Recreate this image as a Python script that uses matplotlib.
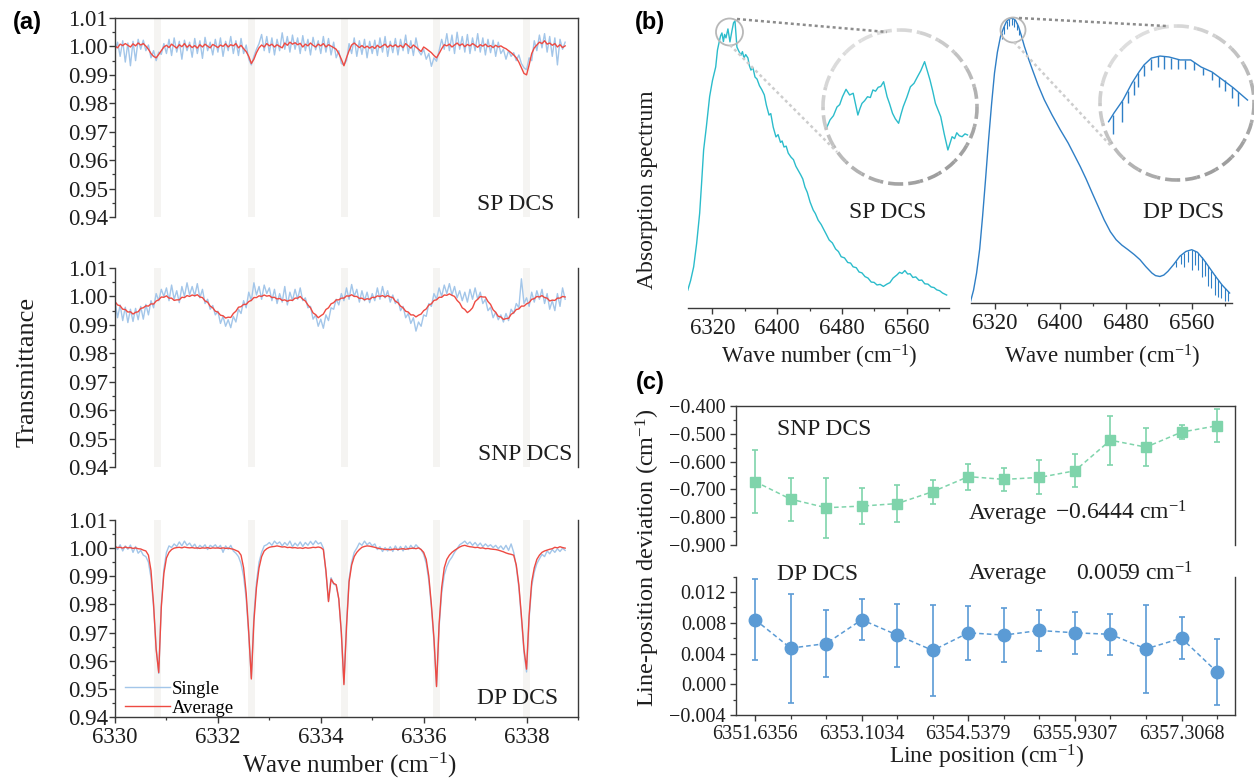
import matplotlib.pyplot as plt
import numpy as np
from matplotlib.patches import Arc, Circle
from matplotlib.ticker import FuncFormatter, MultipleLocator

W, H = 1254, 781

# (a) transmittance, one sample every 0.05 cm-1 starting at 6330.00
wn_start, wn_step = 6330.0, 0.05
line_centers = [6330.825, 6332.66, 6334.465, 6336.255, 6338.005]

sp_single = [
    0.9985, 1.0015, 0.9965, 1.0020, 0.9945, 1.0012, 0.9932, 1.0018, 0.9950, 1.0025,
    0.9990, 1.0022, 0.9985, 1.0005, 0.9960, 0.9985, 0.9950, 0.9980, 0.9972, 1.0010,
    0.9975, 1.0025, 0.9968, 1.0030, 0.9980, 1.0018, 0.9955, 1.0022, 0.9985, 1.0015,
    0.9962, 1.0028, 0.9975, 1.0020, 0.9958, 1.0032, 0.9985, 1.0015, 0.9970, 1.0025,
    0.9980, 1.0030, 0.9965, 1.0018, 0.9985, 1.0035, 0.9975, 1.0020, 0.9968, 1.0028,
    0.9975, 1.0005, 0.9955, 0.9935, 0.9965, 0.9990, 1.0010, 1.0042, 0.9985, 1.0035,
    0.9978, 1.0030, 0.9970, 1.0025, 0.9985, 1.0048, 0.9990, 1.0035, 0.9980, 1.0040,
    0.9990, 1.0030, 0.9975, 1.0038, 0.9985, 1.0025, 0.9970, 1.0032, 0.9988, 1.0020,
    0.9975, 1.0035, 0.9980, 1.0028, 0.9970, 1.0015, 0.9960, 0.9985, 0.9940, 0.9935,
    0.9950, 1.0010, 0.9975, 1.0030, 0.9965, 1.0020, 0.9972, 1.0025, 0.9960, 1.0018,
    0.9975, 1.0022, 0.9968, 1.0030, 0.9980, 1.0035, 0.9965, 1.0018, 0.9978, 1.0028,
    0.9970, 1.0025, 0.9985, 1.0040, 0.9975, 1.0020, 0.9968, 1.0030, 0.9985, 0.9970,
    0.9990, 0.9955, 0.9975, 0.9930, 0.9960, 0.9948, 0.9985, 1.0025, 0.9990, 1.0045,
    0.9985, 1.0040, 0.9975, 1.0050, 0.9990, 1.0035, 0.9980, 1.0042, 0.9975, 1.0030,
    0.9985, 1.0045, 0.9980, 1.0030, 0.9970, 1.0025, 0.9978, 1.0022, 0.9965, 1.0015,
    0.9975, 0.9990, 0.9955, 0.9985, 0.9965, 0.9978, 0.9950, 0.9970, 0.9940, 0.9925,
    0.9918, 0.9960, 0.9950, 1.0020, 0.9985, 1.0040, 0.9995, 1.0045, 0.9980, 1.0035,
    0.9965, 1.0030, 0.9935, 1.0025, 0.9990, 1.0015]
sp_avg = [
    1.0002, 0.9995, 1.0008, 1.0003, 1.0010, 1.0004, 0.9998, 1.0009, 1.0002, 1.0012,
    1.0005, 1.0010, 1.0001, 0.9990, 0.9975, 0.9965, 0.9960, 0.9972, 0.9985, 0.9998,
    1.0004, 0.9996, 1.0008, 1.0001, 0.9994, 1.0006, 0.9999, 1.0010, 0.9997, 1.0005,
    0.9996, 1.0003, 0.9994, 1.0006, 0.9998, 1.0008, 1.0001, 0.9995, 1.0007, 1.0002,
    0.9996, 1.0005, 1.0000, 1.0009, 0.9998, 1.0006, 1.0002, 1.0010, 0.9995, 1.0004,
    0.9992, 0.9982, 0.9965, 0.9940, 0.9955, 0.9978, 0.9995, 1.0005, 0.9998, 1.0010,
    1.0002, 1.0008, 0.9998, 1.0006, 1.0000, 0.9995, 1.0012, 1.0004, 1.0015, 1.0008,
    1.0013, 1.0006, 1.0011, 0.9998, 1.0008, 1.0002, 1.0012, 1.0004, 0.9998, 1.0008,
    1.0002, 1.0010, 0.9998, 1.0006, 1.0001, 0.9996, 0.9990, 0.9975, 0.9955, 0.9932,
    0.9960, 0.9985, 1.0005, 1.0012, 1.0004, 0.9996, 1.0003, 0.9995, 1.0001, 0.9994,
    1.0000, 0.9993, 1.0004, 0.9996, 1.0002, 1.0008, 0.9997, 1.0005, 0.9999, 1.0006,
    0.9998, 1.0004, 0.9996, 1.0010, 1.0002, 0.9994, 1.0005, 0.9998, 0.9990, 0.9982,
    0.9998, 0.9992, 0.9985, 0.9978, 0.9968, 0.9960, 0.9975, 0.9992, 1.0006, 1.0002,
    1.0008, 0.9998, 1.0005, 1.0012, 1.0003, 1.0009, 0.9999, 1.0007, 1.0002, 1.0010,
    1.0004, 0.9997, 1.0006, 1.0001, 1.0008, 0.9999, 1.0003, 0.9996, 1.0004, 0.9998,
    1.0002, 0.9996, 0.9992, 0.9985, 0.9978, 0.9970, 0.9960, 0.9945, 0.9925, 0.9905,
    0.9900, 0.9935, 0.9975, 0.9995, 1.0005, 1.0015, 1.0010, 1.0020, 1.0008, 1.0012,
    1.0004, 1.0010, 0.9998, 1.0006, 0.9996, 1.0002]

snp_single = [
    0.9985, 0.9925, 0.9970, 0.9915, 0.9962, 0.9908, 0.9955, 0.9912, 0.9958, 0.9918,
    0.9965, 0.9920, 0.9972, 0.9935, 0.9985, 0.9960, 1.0010, 0.9985, 1.0025, 1.0000,
    1.0030, 0.9985, 1.0040, 0.9990, 1.0020, 0.9978, 1.0035, 1.0000, 1.0048, 1.0005,
    1.0035, 1.0002, 1.0045, 0.9995, 1.0025, 0.9975, 0.9990, 0.9955, 0.9968, 0.9935,
    0.9948, 0.9905, 0.9930, 0.9895, 0.9918, 0.9890, 0.9930, 0.9910, 0.9955, 0.9940,
    0.9985, 0.9960, 1.0015, 0.9985, 1.0048, 1.0005, 1.0035, 0.9990, 1.0040, 1.0010,
    1.0030, 0.9985, 1.0025, 0.9975, 1.0010, 0.9980, 1.0035, 0.9970, 1.0015, 0.9985,
    1.0025, 0.9990, 1.0030, 0.9985, 0.9995, 0.9960, 0.9965, 0.9920, 0.9935, 0.9895,
    0.9920, 0.9888, 0.9935, 0.9915, 0.9960, 0.9955, 0.9990, 0.9970, 1.0010, 0.9985,
    1.0030, 0.9990, 1.0042, 1.0000, 1.0025, 0.9980, 1.0020, 0.9985, 1.0015, 0.9978,
    1.0010, 0.9985, 1.0030, 0.9990, 1.0035, 0.9995, 1.0020, 0.9980, 1.0005, 0.9975,
    0.9990, 0.9950, 0.9965, 0.9925, 0.9940, 0.9905, 0.9925, 0.9878, 0.9910, 0.9895,
    0.9935, 0.9930, 0.9975, 0.9965, 1.0010, 0.9990, 1.0030, 1.0000, 1.0040, 1.0010,
    1.0045, 1.0005, 1.0035, 0.9995, 1.0020, 0.9985, 1.0015, 0.9980, 1.0025, 0.9990,
    1.0030, 0.9990, 1.0015, 0.9975, 0.9990, 0.9950, 0.9962, 0.9925, 0.9945, 0.9918,
    0.9935, 0.9910, 0.9940, 0.9915, 0.9955, 0.9940, 0.9975, 0.9960, 1.0062, 0.9975,
    0.9995, 0.9965, 1.0015, 0.9980, 1.0020, 0.9990, 1.0025, 0.9975, 1.0010, 0.9955,
    0.9985, 0.9950, 1.0010, 0.9965, 1.0030, 0.9990]
snp_avg = [
    0.9982, 0.9970, 0.9967, 0.9955, 0.9954, 0.9945, 0.9946, 0.9938, 0.9944, 0.9946,
    0.9958, 0.9960, 0.9967, 0.9966, 0.9974, 0.9973, 0.9984, 0.9988, 0.9998, 0.9997,
    1.0002, 0.9994, 0.9994, 0.9986, 0.9988, 0.9988, 0.9997, 0.9996, 1.0003, 1.0000,
    1.0005, 1.0002, 1.0006, 0.9998, 0.9996, 0.9984, 0.9980, 0.9966, 0.9960, 0.9948,
    0.9945, 0.9934, 0.9932, 0.9924, 0.9927, 0.9926, 0.9940, 0.9948, 0.9962, 0.9964,
    0.9972, 0.9972, 0.9982, 0.9986, 0.9996, 0.9996, 1.0002, 1.0000, 1.0005, 1.0001,
    1.0003, 0.9996, 0.9997, 0.9991, 0.9993, 0.9986, 0.9988, 0.9983, 0.9987, 0.9986,
    0.9994, 0.9994, 1.0000, 0.9990, 0.9984, 0.9970, 0.9960, 0.9942, 0.9936, 0.9925,
    0.9932, 0.9938, 0.9954, 0.9960, 0.9974, 0.9978, 0.9988, 0.9988, 0.9994, 0.9994,
    1.0002, 1.0001, 1.0006, 1.0000, 1.0000, 0.9993, 0.9994, 0.9988, 0.9992, 0.9990,
    0.9997, 0.9996, 1.0002, 1.0000, 1.0003, 0.9998, 1.0003, 0.9998, 0.9996, 0.9983,
    0.9978, 0.9966, 0.9960, 0.9948, 0.9945, 0.9935, 0.9935, 0.9928, 0.9934, 0.9938,
    0.9950, 0.9956, 0.9970, 0.9974, 0.9986, 0.9988, 0.9997, 0.9997, 1.0005, 1.0004,
    1.0009, 1.0004, 1.0000, 0.9986, 0.9977, 0.9960, 0.9954, 0.9943, 0.9950, 0.9960,
    0.9982, 0.9990, 1.0000, 0.9998, 0.9998, 0.9982, 0.9972, 0.9953, 0.9944, 0.9930,
    0.9928, 0.9919, 0.9922, 0.9923, 0.9937, 0.9943, 0.9954, 0.9956, 0.9966, 0.9966,
    0.9974, 0.9978, 0.9990, 0.9992, 1.0000, 0.9998, 1.0003, 0.9996, 0.9994, 0.9984,
    0.9987, 0.9986, 0.9994, 0.9994, 1.0000, 0.9998]

dp_single = [
    1.0010, 0.9995, 1.0012, 0.9990, 1.0008, 0.9996, 1.0011, 0.9985, 1.0006, 0.9982,
    0.9992, 0.9975, 0.9970, 0.9950, 0.9895, 0.9790, 0.9645, 0.9555, 0.9800, 0.9925,
    0.9985, 1.0008, 1.0002, 1.0015, 1.0006, 1.0022, 1.0008, 1.0025, 1.0010, 1.0018,
    1.0004, 1.0014, 0.9998, 1.0010, 1.0002, 1.0012, 0.9995, 1.0010, 1.0004, 1.0012,
    1.0000, 1.0010, 0.9985, 1.0008, 0.9996, 1.0010, 0.9990, 0.9982, 0.9970, 0.9945,
    0.9900, 0.9820, 0.9690, 0.9540, 0.9760, 0.9880, 0.9950, 0.9985, 1.0008, 1.0012,
    1.0020, 1.0010, 1.0025, 1.0015, 1.0022, 1.0008, 1.0020, 1.0010, 1.0025, 1.0005,
    1.0018, 1.0008, 1.0022, 1.0006, 1.0020, 1.0010, 1.0024, 1.0012, 1.0026, 1.0015,
    1.0020, 1.0000, 0.9915, 0.9812, 0.9895, 0.9872, 0.9868, 0.9818, 0.9695, 0.9520,
    0.9730, 0.9890, 0.9950, 0.9985, 1.0000, 1.0018, 1.0010, 1.0025, 1.0012, 1.0020,
    1.0008, 1.0015, 0.9995, 1.0005, 0.9988, 1.0002, 0.9990, 1.0005, 0.9988, 1.0008,
    0.9992, 1.0006, 0.9990, 1.0008, 0.9995, 1.0010, 0.9998, 1.0012, 1.0002, 0.9995,
    0.9978, 0.9945, 0.9885, 0.9790, 0.9670, 0.9512, 0.9720, 0.9840, 0.9905, 0.9935,
    0.9955, 0.9968, 0.9985, 0.9998, 1.0012, 1.0018, 1.0025, 1.0014, 1.0022, 1.0010,
    1.0020, 1.0008, 1.0018, 1.0005, 1.0015, 1.0006, 1.0012, 1.0002, 1.0010, 0.9998,
    1.0008, 0.9995, 1.0010, 0.9992, 1.0015, 0.9985, 0.9935, 0.9860, 0.9750, 0.9630,
    0.9560, 0.9750, 0.9865, 0.9915, 0.9945, 0.9962, 0.9978, 0.9970, 0.9990, 0.9980,
    0.9995, 0.9985, 0.9998, 0.9988, 1.0000, 0.9992]
dp_avg = [
    1.0005, 1.0002, 1.0003, 1.0000, 1.0004, 1.0001, 1.0002, 0.9999, 1.0001, 0.9998,
    0.9997, 0.9993, 0.9990, 0.9975, 0.9920, 0.9800, 0.9640, 0.9558, 0.9790, 0.9910,
    0.9965, 0.9985, 0.9995, 1.0000, 1.0002, 1.0003, 1.0001, 1.0004, 1.0002, 1.0001,
    1.0002, 1.0000, 1.0001, 0.9999, 1.0001, 1.0000, 1.0002, 0.9999, 1.0001, 1.0000,
    1.0001, 0.9999, 1.0001, 0.9999, 1.0000, 0.9998, 0.9996, 0.9992, 0.9988, 0.9975,
    0.9930, 0.9840, 0.9700, 0.9535, 0.9740, 0.9860, 0.9930, 0.9970, 0.9990, 0.9998,
    1.0003, 1.0005, 1.0006, 1.0008, 1.0006, 1.0004, 1.0005, 1.0002, 1.0003, 1.0001,
    1.0002, 1.0000, 1.0001, 0.9999, 1.0002, 1.0000, 1.0001, 1.0003, 1.0002, 1.0004,
    1.0002, 0.9995, 0.9920, 0.9810, 0.9890, 0.9875, 0.9870, 0.9820, 0.9700, 0.9515,
    0.9720, 0.9880, 0.9940, 0.9970, 0.9985, 0.9995, 1.0003, 1.0006, 1.0008, 1.0007,
    1.0005, 1.0003, 1.0000, 0.9998, 0.9997, 0.9995, 0.9996, 0.9994, 0.9996, 0.9997,
    0.9995, 0.9997, 0.9998, 0.9996, 0.9998, 0.9999, 1.0000, 0.9998, 1.0001, 0.9995,
    0.9985, 0.9960, 0.9900, 0.9800, 0.9680, 0.9508, 0.9730, 0.9860, 0.9930, 0.9960,
    0.9975, 0.9985, 0.9992, 0.9998, 1.0004, 1.0008, 1.0010, 1.0007, 1.0005, 1.0004,
    1.0002, 1.0003, 1.0000, 1.0001, 0.9998, 0.9999, 0.9997, 0.9996, 0.9995, 0.9993,
    0.9990, 0.9987, 0.9983, 0.9980, 0.9978, 0.9975, 0.9940, 0.9870, 0.9760, 0.9640,
    0.9570, 0.9760, 0.9880, 0.9930, 0.9960, 0.9975, 0.9985, 0.9990, 0.9993, 0.9996,
    0.9998, 1.0003, 1.0001, 1.0005, 1.0002, 1.0000]

# (b) absorption spectra (arbitrary units)
sp_wn = [
    6289.5, 6293.0, 6296.8, 6300.5, 6304.2, 6306.5, 6309.1, 6312.5, 6316.5, 6320.0,
    6324.0, 6326.2, 6328.0, 6330.0, 6331.7, 6333.5, 6335.0, 6336.7, 6339.1, 6341.6,
    6344.0, 6346.0, 6347.8, 6350.2, 6352.5, 6355.2, 6357.0, 6358.9, 6361.0, 6363.8,
    6365.5, 6367.5, 6370.0, 6372.5, 6375.0, 6378.0, 6381.1, 6384.0, 6386.5, 6389.8,
    6392.0, 6395.0, 6398.4, 6401.0, 6404.0, 6406.0, 6408.3, 6411.0, 6413.5, 6416.9,
    6420.0, 6423.0, 6425.6, 6429.0, 6431.5, 6434.2, 6437.0, 6440.5, 6444.4, 6447.0,
    6450.5, 6454.2, 6457.5, 6460.5, 6464.1, 6468.0, 6472.0, 6475.5, 6478.9, 6483.0,
    6487.0, 6490.5, 6493.6, 6497.5, 6501.0, 6504.5, 6508.3, 6512.0, 6516.0, 6519.5,
    6523.1, 6527.0, 6531.0, 6535.4, 6539.0, 6543.0, 6547.8, 6551.0, 6554.0, 6557.5,
    6561.0, 6564.0, 6567.4, 6571.0, 6575.0, 6578.5, 6582.1, 6586.0, 6590.0, 6593.5,
    6596.9, 6600.5, 6604.0, 6609.1]
sp_abs = [
    0.062, 0.095, 0.143, 0.225, 0.329, 0.430, 0.549, 0.630, 0.734, 0.790,
    0.837, 0.896, 0.920, 0.945, 0.955, 0.925, 0.950, 0.938, 0.969, 0.924,
    0.962, 0.990, 0.997, 0.906, 0.892, 0.878, 0.890, 0.868, 0.880, 0.868,
    0.842, 0.826, 0.834, 0.802, 0.795, 0.772, 0.757, 0.740, 0.705, 0.670,
    0.675, 0.628, 0.594, 0.602, 0.575, 0.580, 0.559, 0.562, 0.538, 0.524,
    0.515, 0.492, 0.479, 0.462, 0.448, 0.420, 0.402, 0.368, 0.340, 0.328,
    0.305, 0.290, 0.272, 0.256, 0.236, 0.226, 0.205, 0.196, 0.178, 0.174,
    0.158, 0.156, 0.143, 0.140, 0.125, 0.122, 0.109, 0.104, 0.090, 0.089,
    0.080, 0.082, 0.075, 0.083, 0.088, 0.104, 0.115, 0.124, 0.120, 0.130,
    0.118, 0.119, 0.106, 0.108, 0.096, 0.097, 0.084, 0.083, 0.073, 0.071,
    0.063, 0.060, 0.052, 0.045]

dp_wn = [
    6290.9, 6294.5, 6298.2, 6302.0, 6305.5, 6309.0, 6312.8, 6316.5, 6320.0, 6323.5,
    6327.3, 6331.0, 6334.6, 6338.0, 6341.9, 6345.5, 6349.1, 6352.5, 6356.4, 6361.0,
    6366.1, 6373.0, 6380.6, 6390.0, 6400.0, 6409.7, 6417.0, 6424.3, 6431.5, 6438.9,
    6446.0, 6453.4, 6461.0, 6468.0, 6475.0, 6482.5, 6490.0, 6497.0, 6504.0, 6511.6,
    6516.0, 6521.3, 6526.0, 6531.0, 6538.0, 6545.5, 6553.0, 6560.0, 6567.0, 6574.6,
    6582.0, 6589.1, 6597.0, 6606.1]
dp_abs = [
    0.006, 0.045, 0.105, 0.190, 0.304, 0.430, 0.573, 0.700, 0.807, 0.880,
    0.935, 0.965, 0.988, 0.997, 1.000, 0.992, 0.971, 0.940, 0.900, 0.860,
    0.819, 0.765, 0.713, 0.660, 0.608, 0.561, 0.520, 0.479, 0.435, 0.386,
    0.340, 0.292, 0.250, 0.222, 0.203, 0.187, 0.170, 0.152, 0.128, 0.105,
    0.096, 0.093, 0.098, 0.111, 0.135, 0.164, 0.181, 0.187, 0.178, 0.152,
    0.122, 0.093, 0.063, 0.035]
# absorption lines riding on the DP spectrum
dp_line_wn = [6329, 6332, 6335, 6338, 6341, 6344, 6347, 6350,
              6541, 6547, 6551, 6556, 6560, 6564, 6568, 6572,
              6576, 6580, 6584, 6588, 6592, 6596, 6600, 6604]
dp_line_top = [0.949, 0.971, 0.989, 0.997, 0.999, 0.995, 0.983, 0.963,
               0.147, 0.167, 0.177, 0.184, 0.187, 0.182, 0.175, 0.161,
               0.146, 0.130, 0.114, 0.097, 0.082, 0.067, 0.053, 0.041]
dp_line_bottom = [0.925, 0.945, 0.962, 0.972, 0.975, 0.968, 0.958, 0.940,
                  0.127, 0.137, 0.127, 0.144, 0.117, 0.132, 0.115, 0.091,
                  0.096, 0.060, 0.054, 0.027, 0.022, 0.017, 0.008, 0.006]

# zoomed views of the spectral peaks
sp_zoom_wn = [
    6325.85, 6326.54, 6327.20, 6327.88, 6328.40, 6328.94, 6329.62, 6330.31, 6331.00, 6331.90,
    6332.30, 6332.69, 6333.20, 6333.75, 6334.30, 6334.79, 6335.30, 6335.81, 6336.30, 6336.85,
    6337.52, 6338.00, 6338.56, 6339.10, 6339.73, 6340.20, 6340.62, 6341.30, 6342.00, 6342.70,
    6343.37, 6344.00, 6344.73, 6345.77, 6346.30, 6346.81, 6347.83, 6348.50, 6349.21, 6350.02,
    6350.50, 6350.92, 6351.40, 6351.94, 6352.50, 6352.98]
sp_zoom_abs = [
    0.365, 0.418, 0.445, 0.500, 0.515, 0.565, 0.612, 0.576, 0.587, 0.449,
    0.490, 0.523, 0.540, 0.565, 0.560, 0.608, 0.600, 0.625, 0.630, 0.660,
    0.565, 0.520, 0.460, 0.425, 0.397, 0.455, 0.502, 0.560, 0.628, 0.650,
    0.692, 0.730, 0.787, 0.671, 0.600, 0.523, 0.439, 0.330, 0.228, 0.312,
    0.300, 0.337, 0.318, 0.312, 0.330, 0.323]
dp_zoom_wn = [6331.6, 6332.5, 6334.0, 6335.5, 6336.67, 6337.5, 6338.73, 6340.17,
              6341.67, 6343.5, 6345.28, 6347.0, 6348.83, 6350.67, 6352.43, 6354.75]
dp_zoom_abs = [0.380, 0.436, 0.519, 0.628, 0.699, 0.744, 0.788, 0.801,
               0.795, 0.776, 0.776, 0.731, 0.699, 0.647, 0.596, 0.519]
dp_zoom_line_wn = [6332.3, 6333.85, 6334.87, 6335.77, 6336.53, 6337.55, 6338.62, 6339.8, 6340.82,
                   6342.0, 6343.2, 6344.4, 6345.88, 6347.37, 6348.85, 6350.05, 6350.93, 6352.13, 6353.15]
dp_zoom_line_top = [0.42, 0.51, 0.58, 0.64, 0.69, 0.745, 0.785, 0.80, 0.80,
                    0.79, 0.78, 0.776, 0.76, 0.725, 0.70, 0.665, 0.645, 0.60, 0.57]
dp_zoom_line_bottom = [0.30, 0.38, 0.50, 0.55, 0.60, 0.67, 0.71, 0.73, 0.72,
                       0.72, 0.72, 0.72, 0.71, 0.68, 0.65, 0.60, 0.58, 0.53, 0.48]

# (c) line-position deviations
line_labels = ["6351.6356", "6353.1034", "6354.5379", "6355.9307", "6357.3068"]
snp_dev = [-0.672, -0.735, -0.766, -0.760, -0.751, -0.708, -0.654,
           -0.664, -0.657, -0.633, -0.523, -0.548, -0.494, -0.471]
snp_err = [0.112, 0.077, 0.108, 0.066, 0.068, 0.043, 0.047,
           0.040, 0.061, 0.060, 0.088, 0.068, 0.024, 0.060]
dp_dev = [0.0084, 0.0047, 0.0053, 0.0084, 0.0064, 0.0044, 0.0067,
          0.0064, 0.0070, 0.0067, 0.0065, 0.0046, 0.0060, 0.0016]
dp_err = [0.0053, 0.0071, 0.0044, 0.0027, 0.0041, 0.0059, 0.0035,
          0.0035, 0.0027, 0.0027, 0.0027, 0.0057, 0.0027, 0.0043]

plt.rcParams["font.family"] = ["Liberation Serif", "DejaVu Serif"]
plt.rcParams["mathtext.fontset"] = "custom"
plt.rcParams["mathtext.rm"] = "Liberation Serif"
plt.rcParams["mathtext.it"] = "Liberation Serif:italic"
plt.rcParams["axes.unicode_minus"] = True

TXT = "#1e1e1e"
SPINE = "#3a3a3a"
CM = "cm$^{-1}$"


def box(x0, y0, x1, y1):
    return [x0 / W, 1 - y1 / H, (x1 - x0) / W, (y1 - y0) / H]


def ftext(x, y, s, **kw):
    kw.setdefault("color", TXT)
    fig.text(x / W, 1 - y / H, s, **kw)


def fmt(decimals):
    return FuncFormatter(lambda v, p: f"{v:.{decimals}f}".replace("-", "\u2212"))


def style_spines(ax, top, bottom, left=True, right=True):
    for name, on in zip(["top", "bottom", "left", "right"], [top, bottom, left, right]):
        ax.spines[name].set_visible(on)
        ax.spines[name].set_color(SPINE)
        ax.spines[name].set_linewidth(1.0)


fig = plt.figure(figsize=(W / 100, H / 100), dpi=100)

# ---------------- (a) ----------------
wn_a = wn_start + wn_step * np.arange(len(sp_avg))
a_boxes = [(115, 18, 578, 217), (115, 268, 578, 467), (115, 520, 578, 717)]
a_series = [(sp_single, sp_avg), (snp_single, snp_avg), (dp_single, dp_avg)]
a_names = [("SP DCS", 554, 204), ("SNP DCS", 572, 454), ("DP DCS", 558, 699)]

for i, (b, (single, avg), (name, tx, ty)) in enumerate(zip(a_boxes, a_series, a_names)):
    ax = fig.add_axes(box(*b))
    for c in line_centers:
        ax.axvspan(c - 0.07, c + 0.07, color="#f5f4f2", lw=0, zorder=0)
    ax.plot(wn_a, single, color="#a3c6e9", lw=1.0, label="Single")
    ax.plot(wn_a, avg, color="#ee4a42", lw=1.0, label="Average")
    ax.set_xlim(6330, 6339)
    ax.set_ylim(0.94, 1.01)
    ax.set_yticks([0.94, 0.95, 0.96, 0.97, 0.98, 0.99, 1.00, 1.01])
    ax.yaxis.set_minor_locator(MultipleLocator(0.005))
    ax.yaxis.set_major_formatter(fmt(2))
    ax.set_xticks([6330, 6332, 6334, 6336, 6338])
    ax.set_xticks([6331, 6333, 6335, 6337, 6339], minor=True)
    ax.tick_params(axis="y", which="both", direction="out", labelsize=16.5,
                   colors=SPINE, labelcolor=TXT, pad=1)
    ax.tick_params(axis="y", which="major", length=4, width=1)
    ax.tick_params(axis="y", which="minor", length=2.5, width=0.9)
    ax.tick_params(axis="x", which="both", direction="out", labelsize=16.5,
                   colors=SPINE, labelcolor=TXT, pad=3)
    ax.tick_params(axis="x", which="major", length=4, width=1)
    ax.tick_params(axis="x", which="minor", length=2.5, width=0.9)
    if i < 2:
        ax.tick_params(axis="x", which="both", bottom=False, labelbottom=False)
    style_spines(ax, top=(i == 0), bottom=(i == 2))
    ftext(tx, ty, name, ha="right", va="center", fontsize=17)
    if i == 2:
        ax.legend(loc="lower left", bbox_to_anchor=(0.022, 0.0), frameon=False,
                  fontsize=13.5, handlelength=2.4, handletextpad=0.1,
                  labelspacing=0.12, borderpad=0, borderaxespad=0)

ftext(349, 765, "Wave number (" + CM + ")", ha="center", va="center", fontsize=18)
ftext(28, 372, "Transmittance", ha="center", va="center", rotation=90, fontsize=19)
ftext(27, 22, "(a)", ha="center", va="center", fontsize=17, weight="bold",
      family="Liberation Sans", color="black")

# ---------------- (b) ----------------
b_specs = [
    ((688, 20, 949, 308), (6289.8, 6612), sp_wn, sp_abs, "#2bbccb", "SP DCS", 888, 819),
    ((971, 18, 1232, 303), (6291.4, 6609), dp_wn, dp_abs, "#2f7fc6", "DP DCS", 1184, 1102),
]
b_axes = []
for b, xl, wn, ab, col, name, tx, lx in b_specs:
    ax = fig.add_axes(box(*b))
    ax.plot(wn, ab, color=col, lw=1.0)
    ax.set_xlim(*xl)
    ax.set_ylim(0, 1.0)
    ax.set_yticks([])
    ax.set_xticks([6320, 6400, 6480, 6560])
    ax.set_xticks([6360, 6440, 6520, 6600], minor=True)
    ax.tick_params(axis="x", which="both", direction="out", labelsize=16.5,
                   colors=SPINE, labelcolor=TXT, pad=3)
    ax.tick_params(axis="x", which="major", length=4, width=1)
    ax.tick_params(axis="x", which="minor", length=2.5, width=0.9)
    style_spines(ax, top=False, bottom=True, left=False, right=False)
    ax.patch.set_alpha(0)
    ftext(tx, 213, name, ha="center", va="center", fontsize=17)
    ftext(lx, 357, "Wave number (" + CM + ")", ha="center", va="center", fontsize=16.5)
    b_axes.append(ax)

b_axes[1].vlines(dp_line_wn, dp_line_bottom, dp_line_top, color="#2f7fc6", lw=0.8)

ins1 = fig.add_axes(box(822, 28, 978, 186))
ins1.plot(sp_zoom_wn, sp_zoom_abs, color="#2bbccb", lw=1.0)
ins1.set_xlim(6325, 6355)
ins1.set_ylim(0, 1)
ins1.axis("off")

ins2 = fig.add_axes(box(1099, 25, 1255, 181))
ins2.plot(dp_zoom_wn, dp_zoom_abs, color="#2f7fc6", lw=1.0)
ins2.vlines(dp_zoom_line_wn, dp_zoom_line_bottom, dp_zoom_line_top, color="#2f7fc6", lw=1.0)
ins2.set_xlim(6330, 6356)
ins2.set_ylim(0, 1)
ins2.axis("off")

# magnifier decorations, drawn in pixel coordinates
over = fig.add_axes([0, 0, 1, 1])
over.set_xlim(0, W)
over.set_ylim(H, 0)
over.axis("off")
over.patch.set_alpha(0)
for cx, cy in [(900, 107), (1177, 103)]:
    for k in range(24):
        t0 = k * 15
        shade = 0.87 - 0.25 * (1 + np.cos(np.radians(t0 + 7.5 - 60))) / 2
        over.add_patch(Arc((cx, cy), 154, 154, theta1=t0, theta2=t0 + 15,
                           color=str(shade), lw=2.6, linestyle=(0, (3.3, 1.4))))
for cx, cy, r in [(729.5, 32, 13.5), (1013, 30, 12.5)]:
    over.add_patch(Circle((cx, cy), r, fill=False, ec="#b8b8b8", lw=1.3))
connectors = [((737, 19), (887, 32), "#8c8c8c"), ((730, 45), (837, 152), "#cdcdcd"),
              ((1019, 18), (1166, 26), "#8c8c8c"), ((1014, 42), (1112, 147), "#cdcdcd")]
for (x0, y0), (x1, y1), col in connectors:
    over.plot([x0, x1], [y0, y1], color=col, lw=1.8, linestyle=(0, (1.2, 1.2)))

ftext(648, 190, "Absorption spectrum", ha="center", va="center", rotation=90, fontsize=17)
ftext(650, 22, "(b)", ha="center", va="center", fontsize=17, weight="bold",
      family="Liberation Sans", color="black")

# ---------------- (c) ----------------
idx = np.arange(1, len(snp_dev) + 1)
axc1 = fig.add_axes(box(735.6, 406, 1234.8, 545))
axc2 = fig.add_axes(box(735.6, 576.7, 1234.8, 715))

axc1.errorbar(idx, snp_dev, yerr=snp_err, fmt="s", ls=(0, (3, 2)), color="#7fd4ab",
              ms=7.5, lw=1.1, elinewidth=1.2, capsize=2.5, capthick=1.2)
axc1.set_ylim(-0.9, -0.4)
axc1.set_yticks([-0.9, -0.8, -0.7, -0.6, -0.5, -0.4])
axc1.yaxis.set_minor_locator(MultipleLocator(0.05))
axc1.yaxis.set_major_formatter(fmt(3))
axc1.tick_params(axis="x", which="both", bottom=False, labelbottom=False)
style_spines(axc1, top=True, bottom=False)

axc2.errorbar(idx, dp_dev, yerr=dp_err, fmt="o", ls=(0, (3, 2)), color="#5b9bd5",
              ms=9, lw=1.1, elinewidth=1.2, capsize=2.5, capthick=1.2)
axc2.set_ylim(-0.004, 0.014)
axc2.set_yticks([-0.004, 0.0, 0.004, 0.008, 0.012])
axc2.yaxis.set_minor_locator(MultipleLocator(0.002))
axc2.yaxis.set_major_formatter(fmt(3))
axc2.set_xticks(idx[::3], line_labels)
axc2.set_xticks(idx, minor=True)
style_spines(axc2, top=False, bottom=True)

for ax in (axc1, axc2):
    ax.set_xlim(0.45, 14.5)
    ax.tick_params(axis="both", which="both", direction="out", labelsize=14.5,
                   colors=SPINE, labelcolor=TXT, pad=3)
    ax.tick_params(axis="both", which="major", length=4, width=1)
    ax.tick_params(axis="both", which="minor", length=2.5, width=0.9)
axc2.tick_params(axis="x", which="minor", length=3)

ftext(777, 430, "SNP DCS", ha="left", va="center", fontsize=17)
ftext(969, 513, "Average", ha="left", va="center", fontsize=17)
ftext(1055, 513, "\u22120.6444 " + CM, ha="left", va="center", fontsize=17)
ftext(777, 574, "DP DCS", ha="left", va="center", fontsize=17)
ftext(969, 574, "Average", ha="left", va="center", fontsize=17)
ftext(1076, 574, "0.0059 " + CM, ha="left", va="center", fontsize=17)
ftext(987, 757, "Line position (" + CM + ")", ha="center", va="center", fontsize=17)
ftext(648, 558, "Line-position deviation (" + CM + ")", ha="center", va="center",
      rotation=90, fontsize=17.5)
ftext(650, 383, "(c)", ha="center", va="center", fontsize=17, weight="bold",
      family="Liberation Sans", color="black")

fig.savefig("out.png", dpi=100, facecolor="white")
plt.close(fig)
